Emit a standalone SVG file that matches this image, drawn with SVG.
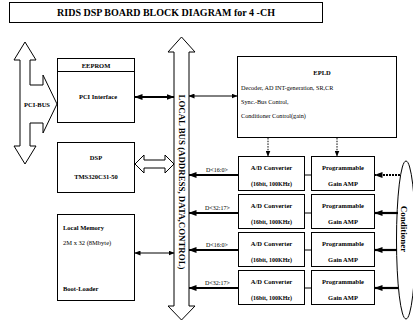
<svg xmlns="http://www.w3.org/2000/svg" width="413" height="323" viewBox="0 0 413 323">
<defs>
<marker id="ah" markerWidth="8" markerHeight="6" refX="7.5" refY="3" orient="auto-start-reverse" markerUnits="userSpaceOnUse"><path d="M0,0 L8,3 L0,6 Z" fill="#000"/></marker>
<marker id="ahs" markerWidth="6" markerHeight="5" refX="5.5" refY="2.5" orient="auto-start-reverse" markerUnits="userSpaceOnUse"><path d="M0,0 L6,2.5 L0,5 Z" fill="#000"/></marker>
<style>
.box{fill:#fff;stroke:#000;stroke-width:1}
.t{font-family:"Liberation Serif","Times New Roman",serif;fill:#000}
.b{font-weight:bold}
.thin{stroke:#000;stroke-width:1;fill:none}
.thick{stroke:#000;stroke-width:2.2;fill:none}
.dash{stroke:#000;stroke-width:1;stroke-dasharray:1.5 1.2;fill:none}
.hollow{fill:#fff;stroke:#000;stroke-width:1}
</style>
</defs>
<rect width="413" height="323" fill="#fff"/>

<g id="title">
<rect class="box" x="9.5" y="2.5" width="313" height="20"/>
<text class="t b" x="166" y="16" font-size="10" text-anchor="middle">RIDS DSP BOARD BLOCK DIAGRAM for 4 -CH</text>
</g>

<g id="pci-bus">
<polygon class="hollow" points="25,42 36,60 30,60 30,85 43,85 43,75 57,104 43,133 43,123 30,123 30,146 36,146 25,164 14,146 20,146 20,60 14,60"/>
<text class="t b" x="37" y="106.5" font-size="6.5" text-anchor="middle">PCI-BUS</text>
</g>

<g id="local-bus">
<polygon class="hollow" points="181.5,37 195,52 189,52 189,306 195,306 181.5,320 168,306 174,306 174,52 168,52"/>
<text class="t b" font-size="7.5" text-anchor="middle" transform="translate(179,182) rotate(90)" textLength="175" lengthAdjust="spacingAndGlyphs">LOCAL BUS (ADDRESS, DATA,CONTROL)</text>
</g>

<g id="eeprom-pci">
<rect class="box" x="57.5" y="58.5" width="77" height="13"/>
<text class="t b" x="96" y="67.5" font-size="6.5" text-anchor="middle">EEPROM</text>
<rect class="box" x="57.5" y="71.5" width="77" height="51"/>
<text class="t b" x="98" y="99" font-size="6.5" text-anchor="middle">PCI Interface</text>
</g>

<g id="dsp">
<rect class="box" x="57.5" y="142.5" width="77" height="50"/>
<text class="t b" x="96" y="160" font-size="6.5" text-anchor="middle">DSP</text>
<text class="t b" x="96" y="179" font-size="6.5" text-anchor="middle">TMS320C31-50</text>
</g>

<g id="local-memory">
<rect class="box" x="57.5" y="214.5" width="77" height="86"/>
<text class="t b" x="63" y="230" font-size="6.5">Local Memory</text>
<text class="t" x="63" y="245" font-size="6.5">2M x 32 (8Mbyte)</text>
<text class="t b" x="63" y="291" font-size="6.5">Boot-Loader</text>
</g>

<g id="epld">
<rect class="box" x="237.5" y="56.5" width="159" height="81"/>
<text class="t b" x="322" y="75" font-size="6.5" text-anchor="middle">EPLD</text>
<text class="t" x="241" y="90" font-size="6.2">Decoder, AD INT-generation, SR,CR</text>
<text class="t" x="241" y="104" font-size="6.2">Sync.-Bus Control,</text>
<text class="t" x="241" y="118" font-size="6.2">Conditioner Control(gain)</text>
</g>

<g id="adc1">
<rect class="box" x="238.5" y="156.5" width="66" height="34"/>
<text class="t b" x="271.5" y="170" font-size="6.5" text-anchor="middle">A/D Converter</text>
<text class="t b" x="271.5" y="186" font-size="6" text-anchor="middle">(16bit, 100KHz)</text>
</g>
<g id="adc2">
<rect class="box" x="238.5" y="194.5" width="66" height="34"/>
<text class="t b" x="271.5" y="208" font-size="6.5" text-anchor="middle">A/D Converter</text>
<text class="t b" x="271.5" y="224" font-size="6" text-anchor="middle">(16bit, 100KHz)</text>
</g>
<g id="adc3">
<rect class="box" x="238.5" y="232.5" width="66" height="34"/>
<text class="t b" x="271.5" y="246" font-size="6.5" text-anchor="middle">A/D Converter</text>
<text class="t b" x="271.5" y="262" font-size="6" text-anchor="middle">(16bit, 100KHz)</text>
</g>
<g id="adc4">
<rect class="box" x="238.5" y="270.5" width="66" height="34"/>
<text class="t b" x="271.5" y="284" font-size="6.5" text-anchor="middle">A/D Converter</text>
<text class="t b" x="271.5" y="300" font-size="6" text-anchor="middle">(16bit, 100KHz)</text>
</g>

<g id="pga1">
<rect class="box" x="311.5" y="156.5" width="63" height="34"/>
<text class="t b" x="343" y="170" font-size="6.5" text-anchor="middle">Programmable</text>
<text class="t b" x="343" y="186" font-size="6.5" text-anchor="middle">Gain AMP</text>
</g>
<g id="pga2">
<rect class="box" x="311.5" y="194.5" width="63" height="34"/>
<text class="t b" x="343" y="208" font-size="6.5" text-anchor="middle">Programmable</text>
<text class="t b" x="343" y="224" font-size="6.5" text-anchor="middle">Gain AMP</text>
</g>
<g id="pga3">
<rect class="box" x="311.5" y="232.5" width="63" height="34"/>
<text class="t b" x="343" y="246" font-size="6.5" text-anchor="middle">Programmable</text>
<text class="t b" x="343" y="262" font-size="6.5" text-anchor="middle">Gain AMP</text>
</g>
<g id="pga4">
<rect class="box" x="311.5" y="270.5" width="63" height="34"/>
<text class="t b" x="343" y="284" font-size="6.5" text-anchor="middle">Programmable</text>
<text class="t b" x="343" y="300" font-size="6.5" text-anchor="middle">Gain AMP</text>
</g>

<g id="conditioner">
<ellipse cx="406" cy="240" rx="9.5" ry="79" fill="#fff" stroke="#000" stroke-width="1"/>
<text class="t b" font-size="9" text-anchor="middle" transform="translate(401,229) rotate(90)">Conditioner</text>
</g>

<g id="connectors">
<line class="thick" x1="135" y1="97" x2="174" y2="97" marker-start="url(#ah)" marker-end="url(#ah)"/>
<polygon class="hollow" points="135,164 144,155 144,160 165,160 165,155 174,164 165,173 165,168 144,168 144,173"/>
<line class="thin" x1="135" y1="253" x2="174" y2="253" marker-start="url(#ahs)" marker-end="url(#ahs)"/>
<line class="thin" x1="189" y1="96" x2="237" y2="96" marker-start="url(#ahs)" marker-end="url(#ahs)"/>
<line class="dash" x1="268" y1="138" x2="268" y2="156" marker-end="url(#ahs)"/>
<line class="dash" x1="337" y1="138" x2="337" y2="156" marker-end="url(#ahs)"/>

<line class="thick" x1="238" y1="175" x2="189" y2="175" marker-end="url(#ah)"/>
<line class="thick" x1="238" y1="213" x2="189" y2="213" marker-end="url(#ah)"/>
<line class="thick" x1="238" y1="250" x2="189" y2="250" marker-end="url(#ah)"/>
<line class="thick" x1="238" y1="288" x2="189" y2="288" marker-end="url(#ah)"/>
<text class="t" x="206" y="172" font-size="6">D&lt;16:0&gt;</text>
<text class="t" x="205" y="210" font-size="6">D&lt;32:17&gt;</text>
<text class="t" x="206" y="247" font-size="6">D&lt;16:0&gt;</text>
<text class="t" x="205" y="285" font-size="6">D&lt;32:17&gt;</text>

<line class="thin" x1="304" y1="175" x2="311" y2="175"/>
<line class="thin" x1="304" y1="213" x2="311" y2="213"/>
<line class="thin" x1="304" y1="250" x2="311" y2="250"/>
<line class="thin" x1="304" y1="288" x2="311" y2="288"/>

<line class="thick" x1="400" y1="175" x2="375" y2="175" stroke-dasharray="2 1" marker-end="url(#ah)"/>
<line class="thick" x1="398" y1="213" x2="375" y2="213" marker-end="url(#ah)"/>
<line class="thick" x1="397" y1="250" x2="375" y2="250" marker-end="url(#ah)"/>
<line class="thick" x1="398" y1="288" x2="375" y2="288" marker-end="url(#ah)"/>
</g>
</svg>
